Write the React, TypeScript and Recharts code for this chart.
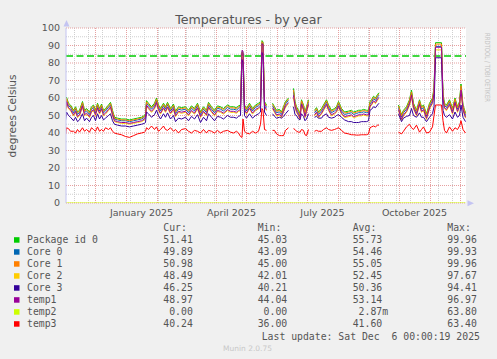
import React from 'react'
import { CartesianGrid, Legend, Line, LineChart, ReferenceLine, XAxis, YAxis } from 'recharts'

const W = 497
const H = 359
const LEG_TOP = 220

// x = days since 1 Nov 2024 (400 = 6 Dec 2025); null rows are gaps in the data
const DAYS = [
  0, 1, 3, 5, 8, 10, 12, 14, 17, 19, 21, 24, 26, 28, 30, 32, 34, 36, 38, 40,
  43, 45, 47, 49, 52, 56, 60, 64, 68, 72, 76, 79, 80, 81, 83, 86, 89, 91, 93, 95,
  98, 100, 102, 105, 108, 110, 113, 116, 120, 123, 126, 129, 132, 135, 138, 141, 143, 146, 149, 152,
  155, 158, 162, 165, 168, 171, 173, 175, 176.5, 177.5, 179, 181, 184, 187, 190, 193, 195, 196.5, 197.5, 199,
  201,
  203.5,
  207, 209, 211, 214, 216, 218, 220, 223,
  225.5,
  228, 229.5, 231, 233, 234.5, 236, 238, 239.5, 241, 243,
  245.5,
  249, 251, 253, 256, 258, 261, 263, 266, 269, 271, 273, 276, 279, 283, 286, 288, 291, 293, 296, 298,
  301, 303, 304.5, 306, 308, 310, 312, 313.5,
  323,
  333, 336, 338, 341, 344, 346, 348, 351, 354, 356, 358, 361, 364, 367, 368.5, 370, 376, 377.5, 379, 381,
  384, 387, 389.5, 392, 394, 395.5, 397.5, 400,
]

const PACKAGE = [
  55, 60.5, 57, 56, 53, 55, 52, 53, 58, 53, 54, 52, 55, 56, 53, 57, 54, 56.5, 53, 54,
  56, 57.5, 53, 49, 48.5, 48, 48, 47.5, 48, 48.5, 49, 50, 51, 58.5, 57, 55, 57, 60, 56, 54,
  57, 55, 57.5, 54, 56.5, 52.5, 55, 54.5, 55, 53, 55.5, 54, 57, 52, 55, 53, 57.5, 55, 53, 55.5,
  55, 54, 56, 55, 55, 54.5, 55.5, 56, 86.5, 86, 56, 54, 57, 54, 56, 57, 58, 92.8, 92, 58,
  56,
  null,
  57, 55, 53, 53.5, 52, 55, 58, 60,
  null,
  65.5, 58, 55, 53, 51, 59, 56, 52, 55, 59,
  null,
  53, 54.5, 52, 54, 56, 59, 56, 53, 54, 55, 58, 54, 52, 52.5, 53, 52, 52.5, 53, 53, 53.5,
  53, 53, 58, 59, 61, 60, 62, 63,
  null,
  56, 50.5, 53, 55, 59, 64.5, 57, 53, 59, 55, 56, 51, 57, 60, 66, 91.6, 91.6, 62, 57, 56,
  59, 54, 60, 55, 58, 68, 56, 51.5,
]

const CORE0 = [
  53.6, 59, 55.6, 54.6, 51.6, 53.6, 50.6, 51.6, 56.6, 51.6, 52.6, 50.6, 53.6, 54.6, 51.6, 55.6, 52.6, 55.1, 51.6, 52.6,
  54.6, 56.1, 51.6, 48, 47.5, 47, 47, 46.5, 47, 47.5, 48, 49, 50, 57.1, 55.6, 53.6, 55.6, 58.6, 54.6, 52.6,
  55.6, 53.6, 56.1, 52.6, 55.1, 51.1, 53.6, 53.1, 53.6, 51.6, 54.1, 52.6, 55.6, 50.6, 53.6, 51.6, 56.1, 53.6, 51.6, 54.1,
  53.6, 52.6, 54.6, 53.6, 53.6, 53.1, 54.1, 54.6, 85.5, 85, 54.6, 52.6, 55.6, 52.6, 54.6, 55.6, 56.6, 91.5, 91, 56.6,
  54.6,
  null,
  55.6, 53.6, 51.6, 52.1, 50.6, 53.6, 56.6, 58.6,
  null,
  63.5, 56.6, 53.6, 51.6, 49.6, 57.6, 54.6, 50.6, 53.6, 57.6,
  null,
  51.6, 53.1, 50.6, 52.6, 54.6, 57.6, 54.6, 51.6, 52.6, 53.6, 56.6, 52.6, 50.6, 51.1, 51.6, 50.6, 51.1, 51.6, 51.6, 52.1,
  51.6, 51.6, 56.6, 57.6, 59.6, 58.6, 60.6, 61.6,
  null,
  54.6, 49.1, 51.6, 53.6, 57.6, 62.8, 55.6, 51.6, 57.6, 53.6, 54.6, 49.6, 55.6, 58.6, 64, 89.5, 89.5, 60.5, 55.6, 54.6,
  57.6, 52.6, 58.6, 53.6, 56.6, 66, 54.6, 50,
]

const CORE1 = [
  54.4, 59.8, 56.4, 55.4, 52.4, 54.4, 51.5, 52.4, 57.3, 52.4, 53.4, 51.4, 54.3, 55.4, 52.4, 56.3, 53.4, 55.9, 52.4, 53.4,
  55.4, 56.8, 52.4, 48.5, 48, 47.5, 47.5, 47, 47.5, 48, 48.5, 49.5, 50.5, 57.8, 56.4, 54.4, 56.3, 59.3, 55.4, 53.4,
  56.3, 54.4, 56.8, 53.4, 55.8, 51.9, 54.4, 53.9, 54.4, 52.4, 54.8, 53.4, 56.3, 51.4, 54.4, 52.4, 56.8, 54.4, 52.4, 54.8,
  54.4, 53.4, 55.4, 54.4, 54.4, 53.9, 54.8, 55.4, 86, 85.5, 55.4, 53.4, 56.3, 53.4, 55.4, 56.3, 57.4, 92.2, 91.5, 57.4,
  55.4,
  null,
  56.4, 54.4, 52.4, 52.9, 51.4, 54.4, 57.4, 59.4,
  null,
  64.5, 57.4, 54.4, 52.4, 50.4, 58.4, 55.4, 51.4, 54.4, 58.4,
  null,
  52.4, 53.9, 51.4, 53.4, 55.4, 58.4, 55.4, 52.4, 53.4, 54.4, 57.4, 53.4, 51.4, 51.9, 52.4, 51.4, 51.9, 52.4, 52.4, 52.9,
  52.4, 52.4, 57.4, 58.4, 60.4, 59.4, 61.4, 62.4,
  null,
  55.4, 49.9, 52.4, 54.4, 58.4, 63.5, 56.4, 52.4, 58.4, 54.4, 55.4, 50.4, 56.4, 59.4, 65, 90.8, 90.8, 61.2, 56.4, 55.4,
  58.4, 53.4, 59.4, 54.4, 57.4, 67, 55.4, 51,
]

const CORE2 = [
  51.8, 57.3, 53.8, 52.8, 49.8, 51.8, 48.8, 49.8, 54.8, 49.8, 50.8, 48.8, 51.8, 52.8, 49.8, 53.8, 50.8, 53.3, 49.8, 50.8,
  52.8, 54.3, 49.8, 46.5, 46, 45.5, 45.5, 45, 45.5, 46, 46.5, 47.5, 48.5, 55.3, 53.8, 51.8, 53.8, 56.8, 52.8, 50.8,
  53.8, 51.8, 54.3, 50.8, 53.3, 49.3, 51.8, 51.3, 51.8, 49.8, 52.3, 50.8, 53.8, 48.8, 51.8, 49.8, 54.3, 51.8, 49.8, 52.3,
  51.8, 50.8, 52.8, 51.8, 51.8, 51.3, 52.3, 52.8, 84, 83.5, 52.8, 50.8, 53.8, 50.8, 52.8, 53.8, 54.8, 90, 89, 54.8,
  52.8,
  null,
  53.8, 51.8, 49.8, 50.3, 48.8, 51.8, 54.8, 56.8,
  null,
  60, 54.8, 51.8, 49.8, 47.8, 55.8, 52.8, 48.8, 51.8, 55.8,
  null,
  49.8, 51.3, 48.8, 50.8, 52.8, 55.8, 52.8, 49.8, 50.8, 51.8, 54.8, 50.8, 48.8, 49.3, 49.8, 48.8, 49.3, 49.8, 49.8, 50.3,
  49.8, 49.8, 54.8, 55.8, 57.8, 56.8, 58.8, 59.8,
  null,
  52.8, 47.3, 49.8, 51.8, 55.8, 60.5, 53.8, 49.8, 55.8, 51.8, 52.8, 47.8, 53.8, 56.8, 61, 87.5, 87.5, 58.8, 53.8, 52.8,
  55.8, 50.8, 56.8, 51.8, 54.8, 63, 52.8, 48.5,
]

const CORE3 = [
  47, 52, 50, 49, 47, 49, 46.5, 47.5, 51, 47, 48.5, 46.5, 49, 50, 47, 51, 48, 50, 47.5, 48.5,
  50, 51, 47, 45, 44.5, 44, 44, 43.5, 44, 44.5, 45, 45.5, 46, 52, 51, 49, 50.5, 53, 50, 48,
  51, 49, 51.5, 48, 50, 46.5, 48.5, 48, 49, 47, 49.5, 48, 50.5, 46, 49, 47, 51, 49, 47, 49.5,
  49, 48, 50, 49, 49, 48.5, 49.5, 50, 82, 80, 50, 48.5, 51, 48.5, 50, 51, 52, 86, 84, 52,
  50,
  null,
  51, 49.5, 48.5, 49, 48.5, 49.5, 51, 53,
  null,
  55, 50.5, 50, 48, 47.5, 51, 49.5, 47, 48, 51,
  null,
  49, 49.5, 48.5, 48.5, 50, 51, 49, 48.5, 49, 50, 50.5, 49, 47.5, 46.5, 46.5, 46, 46, 46, 46.5, 46.5,
  46.5, 47, 53, 53.5, 55, 54.5, 56, 57,
  null,
  51, 46.5, 48.5, 49.5, 50, 54, 50, 49, 51.5, 49, 49, 46.5, 49, 51, 55, 83, 83, 53, 50, 49,
  50.5, 48, 52, 49, 50, 56, 49, 46.5,
]

const TEMP1 = [
  52.4, 57.9, 54.4, 53.4, 50.4, 52.4, 49.4, 50.4, 55.4, 50.4, 51.4, 49.4, 52.4, 53.4, 50.4, 54.4, 51.4, 53.9, 50.4, 51.4,
  53.4, 54.9, 50.4, 47, 46.5, 46, 46, 45.5, 46, 46.5, 47, 48, 49, 55.9, 54.4, 52.4, 54.4, 57.4, 53.4, 51.4,
  54.4, 52.4, 54.9, 51.4, 53.9, 49.9, 52.4, 51.9, 52.4, 50.4, 52.9, 51.4, 54.4, 49.4, 52.4, 50.4, 54.9, 52.4, 50.4, 52.9,
  52.4, 51.4, 53.4, 52.4, 52.4, 51.9, 52.9, 53.4, 87.3, 86.8, 53.4, 51.4, 54.4, 51.4, 53.4, 54.4, 55.4, 91, 90.5, 55.4,
  53.4,
  null,
  54.4, 52.4, 50.4, 50.9, 49.4, 52.4, 55.4, 57.4,
  null,
  61.5, 55.4, 52.4, 50.4, 48.4, 56.4, 53.4, 49.4, 52.4, 56.4,
  null,
  50.4, 51.9, 49.4, 51.4, 53.4, 56.4, 53.4, 50.4, 51.4, 52.4, 55.4, 51.4, 49.4, 49.9, 50.4, 49.4, 49.9, 50.4, 50.4, 50.9,
  50.4, 50.4, 55.4, 56.4, 58.4, 57.4, 59.4, 60.4,
  null,
  53.4, 47.9, 50.4, 52.4, 56.4, 61.5, 54.4, 50.4, 56.4, 52.4, 53.4, 48.4, 54.4, 57.4, 62.5, 89, 89, 59.4, 54.4, 53.4,
  56.4, 51.4, 57.4, 52.4, 55.4, 64.5, 53.4, 49,
]

const TEMP2 = [
  0, 0, 0, 0, 0, 0, 0, 0, 0, 0, 0, 0, 0, 0, 0, 0, 0, 0, 0, 0,
  0, 0, 0, 0, 0, 0, 0, 0, 0, 0, 0, 0, 0, 0, 0, 0, 0, 0, 0, 0,
  0, 0, 0, 0, 0, 0, 0, 0, 0, 0, 0, 0, 0, 0, 0, 0, 0, 0, 0, 0,
  0, 0, 0, 0, 0, 0, 0, 0, 0, 0, 0, 0, 0, 0, 0, 0, 0, 0, 0, 0,
  0,
  null,
  0, 0, 0, 0, 0, 0, 0, 0,
  null,
  0, 0, 0, 0, 0, 0, 0, 0, 0, 0,
  null,
  0, 0, 0, 0, 0, 0, 0, 0, 0, 0, 0, 0, 0, 0, 0, 0, 0, 0, 0, 0,
  0, 0, 0, 0, 0, 0, 0, 0,
  null,
  0, 0, 0, 0, 0, 0, 0, 0, 0, 0, 0, 0, 0, 0, 0, 0, 0, 0, 0, 0,
  0, 0, 0, 0, 0, 0, 0, 0,
]

const TEMP3 = [
  39, 43, 42.5, 41, 41, 40, 42, 40.5, 43, 41, 42, 40.5, 43, 42, 41, 43.5, 41, 42, 41, 43,
  42, 43, 41, 40, 39.5, 39, 38, 37.5, 38.5, 39.5, 40, 40.5, 41, 43, 42, 44, 42, 43.5, 41, 42,
  44, 42, 41.5, 43, 41, 42, 40, 42, 42.5, 41, 40, 41.5, 41, 40, 42, 40, 41.5, 41, 40, 41.5,
  40, 41, 41.5, 40.5, 40, 41, 40, 38, 37.5, 48, 41, 40, 39.5, 41, 40, 41, 45, 54, 53, 42,
  41.5,
  null,
  41.5, 41.5, 39.5, 38.5, 38.5, 38.5, 41.5, 43,
  null,
  42.5, 42, 41, 40.5, 40.5, 42, 41.5, 39, 38.5, 42,
  null,
  41, 41.5, 41, 41, 42, 43, 42, 41.5, 42, 42.5, 43, 41.5, 40, 39.5, 39, 39, 38.8, 38.8, 39, 39,
  39, 39.5, 43, 43.5, 44, 43.5, 44.5, 44.5,
  null,
  40.5, 39.5, 41, 43.5, 45, 43, 42, 44.5, 40.5, 42, 43.5, 40, 40.5, 43.5, 50, 56, 56, 47, 41.5, 40,
  43.5, 41, 43, 42, 44, 47, 42, 40,
]

const SERIES_KEYS = ['pkg', 'core0', 'core1', 'core2', 'core3', 'temp1', 'temp2', 'temp3']
const SERIES_NAMES = ['Package id 0', 'Core 0', 'Core 1', 'Core 2', 'Core 3', 'temp1', 'temp2', 'temp3']
const SERIES_COLORS = ['#00cc00', '#0066b3', '#ff8000', '#ffcc00', '#330099', '#990099', '#ccff00', '#ff0000']
// \u00a0 keeps the monospace columns aligned
const CUR = ['51.41', '49.89', '50.98', '48.49', '46.25', '48.97', '\u00a00.00', '40.24']
const MIN = ['45.03', '43.09', '45.00', '42.01', '40.21', '44.04', '\u00a00.00', '36.00']
const AVG = ['55.73', '54.46', '55.05', '52.45', '50.36', '53.14', '\u00a02.87m', '41.60']
const MAX = ['99.96', '99.93', '99.96', '97.67', '94.41', '96.97', '63.80', '63.40']

const WARNING = 84
const Y_TICKS = [0, 10, 20, 30, 40, 50, 60, 70, 80, 90, 100]
const Y_MINOR = [5, 15, 25, 35, 45, 55, 65, 75, 85, 95]
const MONTH_STARTS = [30, 61, 92, 120, 151, 181, 212, 242, 273, 304, 334, 365, 395]
const TWO_WEEKS = [9, 23, 37, 51, 65, 79, 93, 107, 121, 135, 149, 163, 177, 191, 205, 219, 233, 247, 261, 275, 289, 303, 317, 331, 345, 359, 373, 387]
const LABEL_DAYS = [76, 166, 257, 349]
const LABELS = ['January 2025', 'April 2025', 'July 2025', 'October 2025']

const chartData = DAYS.map((day, i) => ({
  day,
  pkg: PACKAGE[i],
  core0: CORE0[i],
  core1: CORE1[i],
  core2: CORE2[i],
  core3: CORE3[i],
  temp1: TEMP1[i],
  temp2: TEMP2[i],
  temp3: TEMP3[i],
}))

const SANS = "'DejaVu Sans', sans-serif"
const MONO = "'DejaVu Sans Mono', monospace"
const TEXT = '#555'
const AXIS = '#c4c4f2'
const COL_X = [163.3, 257.7, 352.7, 447.3]

function XTick({ x, y, payload }: any) {
  const idx = LABEL_DAYS.indexOf(payload.value)
  return (
    <text x={x} y={y + 12.5} textAnchor="middle" fontFamily={SANS} fontSize={9.5} fill={TEXT}>
      {LABELS[idx] ?? ''}
    </text>
  )
}

function YTick({ x, y, payload }: any) {
  return (
    <text x={x - 6} y={y + 3.4} textAnchor="end" fontFamily={SANS} fontSize={9.5} fill={TEXT}>
      {payload.value}
    </text>
  )
}

function StatsLegend() {
  const rowY = (i: number) => 243 + i * 12 - LEG_TOP
  return (
    <svg width={W} height={H - LEG_TOP} style={{ display: 'block' }}>
      <g fontFamily={MONO} fontSize={9.8} fill={TEXT}>
        {['Cur:', 'Min:', 'Avg:', 'Max:'].map((h, j) => (
          <text key={h} x={COL_X[j]} y={231 - LEG_TOP}>
            {h}
          </text>
        ))}
        {SERIES_NAMES.map((name, i) => (
          <g key={name}>
            <rect x={14} y={rowY(i) - 5.8} width={5.5} height={5.5} fill={SERIES_COLORS[i]} />
            <text x={27} y={rowY(i)}>
              {name}
            </text>
            {[CUR[i], MIN[i], AVG[i], MAX[i]].map((v, j) => (
              <text key={j} x={COL_X[j]} y={rowY(i)}>
                {v}
              </text>
            ))}
          </g>
        ))}
        <text x={261.7} y={339.5 - LEG_TOP}>
          {'Last update: Sat Dec \u00a06 00:00:19 2025'}
        </text>
      </g>
      <text x={247.5} y={351 - LEG_TOP} textAnchor="middle" fontFamily={SANS} fontSize={7.5} fill="#c8c8c8">
        Munin 2.0.75
      </text>
    </svg>
  )
}

export default function App() {
  return (
    <div style={{ position: 'absolute', left: 0, top: 0, width: W, height: H, background: '#f0f0f0' }}>
      <LineChart width={W} height={H} data={chartData} margin={{ top: 28, right: 31, left: 26, bottom: 136 }}>
        <CartesianGrid
          fill="#ffffff"
          stroke="#cfcfcf"
          strokeDasharray="1 1"
          horizontalValues={Y_MINOR}
          verticalValues={TWO_WEEKS}
        />
        <CartesianGrid
          stroke="#e6a0a0"
          strokeDasharray="1 1"
          horizontalValues={Y_TICKS}
          verticalValues={MONTH_STARTS}
        />
        <XAxis
          dataKey="day"
          type="number"
          domain={[0.5, 400.5]}
          ticks={LABEL_DAYS}
          interval={0}
          tick={XTick}
          tickLine={false}
          tickSize={0}
          tickMargin={0}
          height={20}
          axisLine={false}
          allowDataOverflow
        />
        <YAxis
          type="number"
          domain={[0, 100]}
          ticks={Y_TICKS}
          interval={0}
          tick={YTick}
          tickLine={false}
          tickSize={0}
          tickMargin={0}
          width={40}
          axisLine={{ stroke: AXIS }}
          allowDataOverflow
        />
        <ReferenceLine y={WARNING} stroke="#00cc00" strokeWidth={1.5} strokeDasharray="7 3.5" />
        {SERIES_KEYS.map((key, i) => (
          <Line
            key={key}
            type="linear"
            dataKey={key}
            stroke={SERIES_COLORS[i]}
            strokeWidth={1}
            dot={false}
            activeDot={false}
            connectNulls={key === 'temp2'}
            isAnimationActive={false}
          />
        ))}
        <Legend
          layout="horizontal"
          verticalAlign="middle"
          align="center"
          content={() => <StatsLegend />}
          wrapperStyle={{ left: 0, top: LEG_TOP, width: W, height: H - LEG_TOP }}
        />
      </LineChart>
      <svg width={W} height={H} style={{ position: 'absolute', left: 0, top: 0, pointerEvents: 'none' }}>
        <text x={248.5} y={23.5} textAnchor="middle" fontFamily={SANS} fontSize={12.6} fill={TEXT}>
          Temperatures - by year
        </text>
        <text
          x={15.5}
          y={116}
          textAnchor="middle"
          fontFamily={SANS}
          fontSize={10.5}
          fill={TEXT}
          transform="rotate(-90 15.5 116)"
        >
          degrees Celsius
        </text>
        <text
          x={485}
          y={33}
          fontFamily={SANS}
          fontSize={7}
          fill="#c4c4c4"
          textLength={69}
          lengthAdjust="spacingAndGlyphs"
          transform="rotate(90 485 33)"
        >
          RRDTOOL / TOBI OETIKER
        </text>
        <polygon points="66.5,20 63.5,26.5 69.5,26.5" fill={AXIS} />
        <polygon points="474,203.3 467.5,200.3 467.5,206.3" fill={AXIS} />
      </svg>
    </div>
  )
}
